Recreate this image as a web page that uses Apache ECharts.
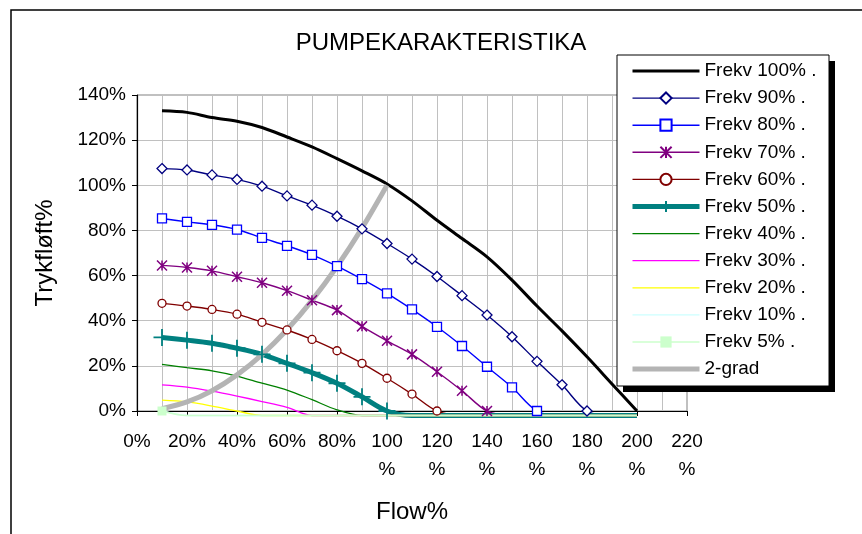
<!DOCTYPE html>
<html>
<head>
<meta charset="utf-8">
<script src="https://cdn.jsdelivr.net/npm/echarts@6/dist/echarts.min.js"></script>
<style>
  html, body { margin: 0; padding: 0; background: #fff; }
  #chart { width: 862px; height: 534px; }
</style>
</head>
<body>
<div id="chart"></div>
<script>
// Flow points (% of nominal flow)
const flow = [10, 20, 30, 40, 50, 60, 70, 80, 90, 100, 110, 120, 130, 140, 150, 160, 170, 180, 190, 200];

// Head (%) per pump speed
const frekv100 = [133, 132.3, 130, 128.4, 125.6, 121.4, 117, 111.8, 106.4, 100.6, 93.1, 84.5, 76.4, 68.3, 58, 46.5, 35.5, 24, 12, 0];
const frekv90  = [107.4, 106.8, 104.6, 102.6, 99.6, 95.3, 91.2, 86.3, 80.7, 74.2, 67.3, 59.6, 51.1, 42.5, 32.9, 22, 11.6, 0, -2, -2];
const frekv80  = [85.3, 83.8, 82.5, 80.4, 76.7, 73.2, 69.2, 64.2, 58.4, 52.1, 45, 37.3, 28.8, 19.6, 10.5, 0, -2, -2, -2, -2];
const frekv70  = [64.5, 63.6, 62.1, 59.5, 56.8, 53.3, 49.1, 44.7, 37.5, 31.1, 25.1, 17.4, 9, 0, -2, -2, -2, -2, -2, -2];
const frekv60  = [47.7, 46.5, 45, 42.9, 39.3, 35.9, 31.7, 26.7, 21.1, 14.5, 7.5, 0, -2, -2, -2, -2, -2, -2, -2, -2];
const frekv50  = [32.6, 31.4, 30, 27.8, 25.1, 21.1, 17, 12.3, 6.3, 0, -2, -2, -2, -2, -2, -2, -2, -2, -2, -2];
const frekv40  = [20.7, 19.2, 17.8, 15.5, 12.3, 9.3, 5, 0.5, -2, -2, -2, -2, -2, -2, -2, -2, -2, -2, -2, -2];
const frekv30  = [11.6, 10.6, 8.8, 6.6, 4.2, 1.6, -2, -2, -2, -2, -2, -2, -2, -2, -2, -2, -2, -2, -2, -2];
const frekv20  = [4.8, 4.0, 2.2, 0, -2, -2, -2, -2, -2, -2, -2, -2, -2, -2, -2, -2, -2, -2, -2, -2];
const frekv10  = [0.3, -2, -2, -2, -2, -2, -2, -2, -2, -2, -2, -2, -2, -2, -2, -2, -2, -2, -2, -2];
const frekv5   = [0, -2, -2, -2, -2, -2, -2, -2, -2, -2, -2, -2, -2, -2, -2, -2, -2, -2, -2, -2];

// System curve
const gradFlow = [10, 20, 30, 40, 50, 60, 70, 80, 90, 100];
const grad2    = [1, 4, 9, 16, 25, 36, 49, 64, 81, 100];

// Axis ticks
const xTicks = [0, 20, 40, 60, 80, 100, 120, 140, 160, 180, 200, 220];
const yTicks = [0, 20, 40, 60, 80, 100, 120, 140];

const FONT = "'Liberation Sans', Arial, sans-serif";

// Points below the axis keep the line but drop the marker
function pts(xs, ys) {
  return ys.map(function (y, i) {
    return y < 0 ? { value: [xs[i], y], symbol: 'none' } : [xs[i], y];
  });
}

function lineSeries(name, ys, color, width, sym) {
  const s = {
    name: name,
    type: 'line',
    data: pts(flow, ys),
    smooth: 0.33,
    clip: false,
    silent: true,
    lineStyle: { color: color, width: width },
    itemStyle: { color: color },
    symbol: 'none',
    emphasis: { disabled: true }
  };
  if (sym) {
    s.symbol = sym.symbol;
    s.symbolSize = sym.size;
    s.itemStyle = { color: sym.fill, borderColor: color, borderWidth: sym.border };
  }
  return s;
}

const star = 'path://M10,0L10,20M0,0L20,20M20,0L0,20';
const plus = 'path://M10,0L10,20M0,10L20,10';

const series = [
  lineSeries('Frekv 100% .', frekv100, '#000000', 3),
  lineSeries('Frekv 90% .', frekv90, '#000080', 1.4, { symbol: 'diamond', size: 10, fill: '#ffffff', border: 1.3 }),
  lineSeries('Frekv 80% .', frekv80, '#0000ff', 1.4, { symbol: 'rect', size: 9, fill: '#ffffff', border: 1.3 }),
  lineSeries('Frekv 70% .', frekv70, '#800080', 1.4, { symbol: star, size: 10, fill: '#800080', border: 1.5 }),
  lineSeries('Frekv 60% .', frekv60, '#800000', 1.4, { symbol: 'circle', size: 8, fill: '#ffffff', border: 1.3 }),
  lineSeries('Frekv 50% .', frekv50, '#008080', 5, { symbol: plus, size: 17, fill: '#008080', border: 1.8 }),
  lineSeries('Frekv 40% .', frekv40, '#008000', 1.3),
  lineSeries('Frekv 30% .', frekv30, '#ff00ff', 1.3),
  lineSeries('Frekv 20% .', frekv20, '#ffff00', 1.3),
  lineSeries('Frekv 10% .', frekv10, '#ccffff', 1.3),
  lineSeries('Frekv 5% .', frekv5, '#ccffcc', 1.3, { symbol: 'rect', size: 9, fill: '#ccffcc', border: 0 }),
  {
    name: '2-grad',
    type: 'line',
    data: gradFlow.map(function (x, i) { return [x, grad2[i]]; }),
    smooth: 0.33,
    clip: false,
    silent: true,
    symbol: 'none',
    lineStyle: { color: '#b4b4b4', width: 5 },
    itemStyle: { color: '#b4b4b4' },
    emphasis: { disabled: true }
  }
];

// Legend entries: series without markers show only their line
const legendData = series.map(function (s) {
  const item = { name: s.name };
  if (s.symbol === 'none') item.itemStyle = { opacity: 0 };
  return item;
});

const chart = echarts.init(document.getElementById('chart'), null, { renderer: 'canvas' });

chart.setOption({
  animation: false,
  backgroundColor: '#ffffff',
  textStyle: { fontFamily: FONT },
  grid: {
    left: 137, top: 95, width: 550, height: 316,
    show: true, borderColor: '#808080', borderWidth: 1, backgroundColor: 'transparent'
  },
  xAxis: {
    type: 'value',
    min: xTicks[0], max: xTicks[xTicks.length - 1], interval: 20,
    name: 'Flow%', nameLocation: 'middle', nameGap: 89,
    nameTextStyle: { fontSize: 24, color: '#000', fontFamily: FONT },
    axisLine: { show: true, onZero: false, lineStyle: { color: '#000', width: 1.2 } },
    axisTick: { show: true, length: 5, lineStyle: { color: '#000' } },
    minorTick: { show: false, splitNumber: 2 },
    minorSplitLine: { show: true, lineStyle: { color: '#c0c0c0', width: 1 } },
    splitLine: { show: true, lineStyle: { color: '#c0c0c0', width: 1 } },
    axisLabel: {
      fontSize: 19, color: '#000', fontFamily: FONT, margin: 17, lineHeight: 28,
      formatter: function (v) { return v < 100 ? v + '%' : v + '\n%'; }
    }
  },
  yAxis: {
    type: 'value',
    min: yTicks[0], max: yTicks[yTicks.length - 1], interval: 20,
    name: 'Trykfløft%', nameLocation: 'middle', nameGap: 80, nameRotate: 90,
    nameTextStyle: { fontSize: 24, color: '#000', fontFamily: FONT },
    axisLine: { show: true, lineStyle: { color: '#000', width: 1.2 } },
    axisTick: { show: true, length: 5, lineStyle: { color: '#000' } },
    splitLine: { show: true, lineStyle: { color: '#c0c0c0', width: 1 } },
    axisLabel: { fontSize: 19, color: '#000', fontFamily: FONT, margin: 11, formatter: '{value}%' }
  },
  legend: {
    orient: 'vertical',
    left: 630, top: 61,
    padding: 0,
    itemWidth: 67, itemHeight: 14, itemGap: 7.1,
    z: 8,
    selectedMode: false,
    lineStyle: { width: 'inherit' },
    textStyle: { fontSize: 19, lineHeight: 20, color: '#000', fontFamily: FONT },
    data: legendData
  },
  graphic: [
    // outer chart frame
    { type: 'rect', z: 1, silent: true, shape: { x: 11, y: 10, width: 900, height: 600 },
      style: { fill: 'none', stroke: '#000', lineWidth: 1.5 } },
    // legend box and its drop shadow
    { type: 'rect', z: 6, silent: true, shape: { x: 623, y: 61, width: 212, height: 331 },
      style: { fill: '#000' } },
    { type: 'rect', z: 7, silent: true, shape: { x: 617, y: 55, width: 212, height: 331 },
      style: { fill: '#fff', stroke: '#000', lineWidth: 1 } },
    { type: 'text', z: 7, silent: true, x: 441, y: 43,
      style: { text: 'PUMPEKARAKTERISTIKA', fontSize: 24, fontFamily: FONT, fill: '#000',
               align: 'center', verticalAlign: 'middle' } }
  ],
  series: series
});
</script>
</body>
</html>
